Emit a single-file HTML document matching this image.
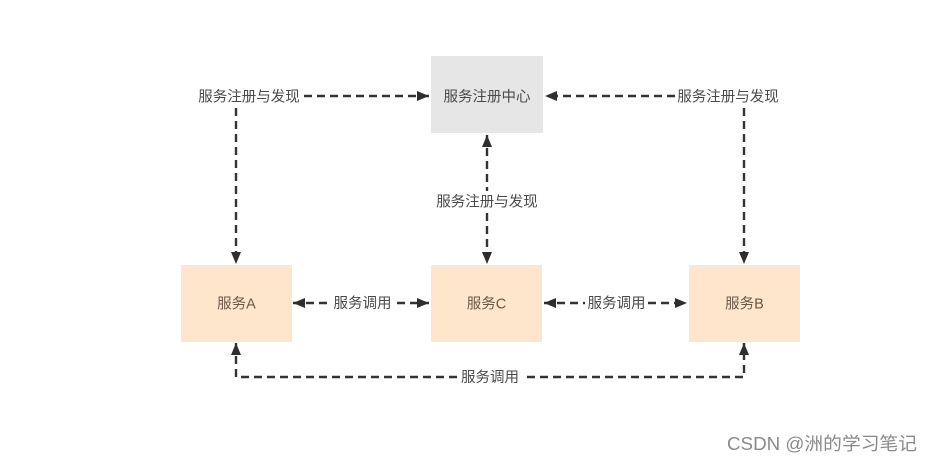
<!DOCTYPE html>
<html>
<head>
<meta charset="utf-8">
<style>
html,body{margin:0;padding:0;background:#fff;}
body{width:933px;height:464px;overflow:hidden;}
svg{display:block;}
text{font-family:"Liberation Sans","Noto Sans CJK SC",sans-serif;}
</style>
</head>
<body>
<svg width="933" height="464" viewBox="0 0 933 464" xmlns="http://www.w3.org/2000/svg">
  <defs>
    <marker id="ah" viewBox="0 0 12 10" refX="12" refY="5" markerWidth="13" markerHeight="10" markerUnits="userSpaceOnUse" orient="auto-start-reverse">
      <path d="M0,0 L12,5 L0,10 Z" fill="#2e2e2e"/>
    </marker>
  </defs>

  <!-- boxes -->
  <rect x="431" y="56" width="112" height="77" fill="#e6e6e6"/>
  <rect x="181" y="265" width="111" height="77" fill="#fde6cc"/>
  <rect x="431" y="265" width="111" height="77" fill="#fde6cc"/>
  <rect x="689" y="265" width="111" height="77" fill="#fde6cc"/>

  <g stroke="#333" stroke-width="2.4" fill="none" stroke-dasharray="8,5">
    <line x1="304" y1="96" x2="429" y2="96" marker-end="url(#ah)"/>
    <line x1="675" y1="96" x2="545" y2="96" marker-end="url(#ah)"/>
    <line x1="236" y1="108" x2="236" y2="264" marker-end="url(#ah)"/>
    <line x1="744" y1="108" x2="744" y2="264" marker-end="url(#ah)"/>
    <line x1="487" y1="135" x2="487" y2="264" marker-start="url(#ah)" marker-end="url(#ah)"/>
    <line x1="293" y1="303" x2="429" y2="303" marker-start="url(#ah)" marker-end="url(#ah)"/>
    <line x1="544" y1="303" x2="687" y2="303" marker-start="url(#ah)" marker-end="url(#ah)"/>
    <path d="M236,343 L236,377 L744,377 L744,343" marker-start="url(#ah)" marker-end="url(#ah)"/>
  </g>

  <!-- label backgrounds -->
  <g fill="#fff">
    <rect x="194" y="86" width="109" height="20"/>
    <rect x="675" y="86" width="106" height="20"/>
    <rect x="432" y="191" width="110" height="20"/>
    <rect x="331" y="293" width="63" height="20"/>
    <rect x="585" y="293" width="63" height="20"/>
    <rect x="459" y="367" width="63" height="20"/>
  </g>

  <g font-size="14.5" fill="#4a4a4a" text-anchor="middle">
    <text x="249" y="101.5">服务注册与发现</text>
    <text x="728" y="101.5">服务注册与发现</text>
    <text x="487" y="206.5">服务注册与发现</text>
    <text x="362.5" y="308">服务调用</text>
    <text x="616.5" y="308">服务调用</text>
    <text x="490" y="382">服务调用</text>
    <text x="487" y="101.5">服务注册中心</text>
  </g>
  <g font-size="14.5" fill="#6a5848" text-anchor="middle">
    <text x="236.5" y="308.5">服务A</text>
    <text x="486.5" y="308.5">服务C</text>
    <text x="744.5" y="308.5">服务B</text>
  </g>

  <text x="727" y="450" font-size="18" fill="#8a8a8a" textLength="190" lengthAdjust="spacingAndGlyphs">CSDN @洲的学习笔记</text>
</svg>
</body>
</html>
